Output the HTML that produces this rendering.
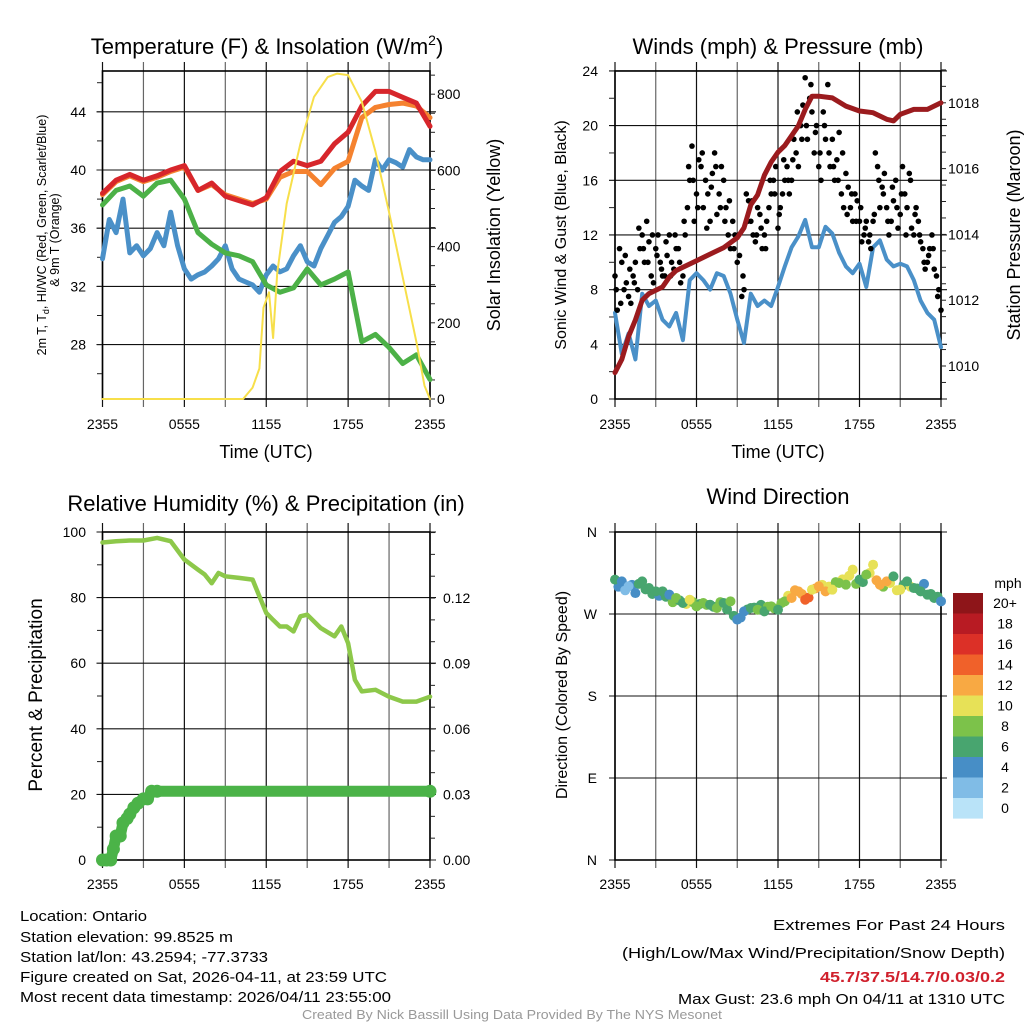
<!DOCTYPE html>
<html><head><meta charset="utf-8"><style>
html,body{margin:0;padding:0;background:#fff}
svg{display:block;font-family:"Liberation Sans",Arial,sans-serif}
</style></head><body>
<svg id="chart" width="1024" height="1024" viewBox="0 0 1024 1024" xmlns="http://www.w3.org/2000/svg">
<rect width="1024" height="1024" fill="#fff"/>
<text x="267" y="54" font-size="22" text-anchor="middle">Temperature (F) &amp; Insolation (W/m<tspan font-size="14" dy="-9">2</tspan><tspan dy="9">)</tspan></text>
<text x="778" y="54" font-size="22" text-anchor="middle">Winds (mph) &amp; Pressure (mb)</text>
<text x="266" y="511" font-size="22" text-anchor="middle">Relative Humidity (%) &amp; Precipitation (in)</text>
<text x="778" y="504" font-size="22" text-anchor="middle">Wind Direction</text>
<text x="266" y="458" font-size="18" text-anchor="middle">Time (UTC)</text>
<text x="778" y="458" font-size="18" text-anchor="middle">Time (UTC)</text>
<g font-size="12.5" text-anchor="middle">
<text transform="translate(46,235) rotate(-90)">2m T, T<tspan font-size="9" dy="3">d</tspan><tspan dy="-3">, HI/WC (Red, Green, Scarlet/Blue)</tspan></text>
<text transform="translate(59,240) rotate(-90)">&amp; 9m T (Orange)</text>
</g>
<text transform="translate(500,235) rotate(-90)" font-size="18" text-anchor="middle">Solar Insolation (Yellow)</text>
<text transform="translate(566,235) rotate(-90)" font-size="16" text-anchor="middle">Sonic Wind &amp; Gust (Blue, Black)</text>
<text transform="translate(1020,235) rotate(-90)" font-size="18" text-anchor="middle">Station Pressure (Maroon)</text>
<text transform="translate(42,695) rotate(-90)" font-size="19" text-anchor="middle">Percent &amp; Precipitation</text>
<text transform="translate(567,695) rotate(-90)" font-size="16" text-anchor="middle">Direction (Colored By Speed)</text>
<g font-size="15">
<text x="20" y="921" textLength="127" lengthAdjust="spacingAndGlyphs">Location: Ontario</text>
<text x="20" y="942" textLength="213" lengthAdjust="spacingAndGlyphs">Station elevation: 99.8525 m</text>
<text x="20" y="962" textLength="248" lengthAdjust="spacingAndGlyphs">Station lat/lon: 43.2594; -77.3733</text>
<text x="20" y="982" textLength="367" lengthAdjust="spacingAndGlyphs">Figure created on Sat, 2026-04-11, at 23:59 UTC</text>
<text x="20" y="1002" textLength="371" lengthAdjust="spacingAndGlyphs">Most recent data timestamp: 2026/04/11 23:55:00</text>
</g>
<g font-size="15">
<text x="773" y="930" textLength="232" lengthAdjust="spacingAndGlyphs">Extremes For Past 24 Hours</text>
<text x="622" y="958" textLength="383" lengthAdjust="spacingAndGlyphs">(High/Low/Max Wind/Precipitation/Snow Depth)</text>
<text x="820" y="982" textLength="185" lengthAdjust="spacingAndGlyphs" fill="#d0202c" font-weight="bold">45.7/37.5/14.7/0.03/0.2</text>
<text x="678" y="1004" textLength="327" lengthAdjust="spacingAndGlyphs">Max Gust: 23.6 mph On 04/11 at 1310 UTC</text>
</g>
<text x="302" y="1019" font-size="12.5" fill="#999" textLength="420" lengthAdjust="spacingAndGlyphs">Created By Nick Bassill Using Data Provided By The NYS Mesonet</text>
<g id="layer"></g>
</svg>
<script>
var hoursHourly=[0,1,2,3,4,5,6,7,8,9,10,11,12,13,14,15,16,17,18,19,20,21,22,23,24];
var hoursHalf=[0,0.5,1,1.5,2,2.5,3,3.5,4,4.5,5,5.5,6,6.5,7,7.5,8,8.5,9,9.5,10,10.5,11,11.5,12,12.5,13,13.5,14,14.5,15,15.5,16,16.5,17,17.5,18,18.5,19,19.5,20,20.5,21,21.5,22,22.5,23,23.5,24];
var temp2m=[38.4,39.3,39.7,39.3,39.6,40.0,40.3,38.6,39.1,38.2,37.9,37.6,38.1,39.9,40.6,40.3,40.6,41.8,42.6,44.4,45.4,45.4,45.0,44.6,43.0];
var temp9m=[38.3,39.2,39.6,39.2,39.5,39.9,40.2,38.6,39.0,38.3,38.0,37.7,38.0,39.5,39.9,39.9,39.0,40.1,40.6,43.6,44.3,44.5,44.6,44.4,43.6];
var dewpoint=[37.6,38.6,38.9,38.2,39.1,39.3,38.0,35.7,34.9,34.3,34.1,33.7,32.1,31.6,31.9,33.2,32.1,32.5,33.0,28.2,28.7,27.8,26.7,27.3,25.6];
var windChill=[33.9,36.6,35.7,38.0,34.3,34.8,34.1,34.6,35.7,34.8,37.1,34.8,33.2,32.5,32.8,33.0,33.4,33.9,34.8,33.2,32.5,32.3,32.1,31.6,32.8,33.4,33.0,33.2,34.1,34.8,33.7,33.4,34.6,35.5,36.4,36.8,37.5,39.3,38.9,38.6,40.7,40.0,40.7,40.5,40.2,41.4,40.9,40.7,40.7];
var solarHours=[0,10.3,11,11.5,11.8,12.2,12.5,12.8,13.5,14.5,15.5,16.5,17.2,18,19,20,21,22,23,23.6,24];
var solarValues=[0,0,30,80,240,280,160,330,513,670,793,845,854,850,780,650,490,320,150,35,0];
var sonicWind=[6.3,3.3,4.8,2.9,7.7,6.8,7.2,5.8,5.3,6.3,4.3,8.7,9.2,8.7,8.0,9.2,9.0,7.7,5.8,4.1,7.7,6.8,7.2,6.8,8.2,9.7,11.1,11.9,13.1,11.1,11.1,12.6,12.1,10.7,9.7,9.2,9.9,8.2,11.1,11.6,10.2,9.7,9.9,9.7,8.7,7.2,6.3,5.8,3.8];
var gustHoursA=[];for(var i=0;i<=72;i++)gustHoursA.push(i/3);
var gustA=[9,11,8,7.5,9,8,12,13,9,11,10,9,12,9.5,11,9,14,18.5,15,17,16,13,18,15,16,12,13,10,7.5,15,13,11.5,13.5,12,14,16,12.5,15,17,16,18,20,23.5,22,18,17,21,23,19,17.5,15,16.5,14,15,13,12,11.5,13,17,15.5,14,13,16,13.5,15,16.5,12,13,11,10,12,9,6.5];
var gustHoursB=[];for(var j=0;j<72;j++)gustHoursB.push(j/3+1/6);
var gustB=[6.5,10,8.5,7,10,11,10,11.5,8.5,12,9,10.5,10,11,8.5,12,16,13,17.5,14,15,16.5,13.5,17,14,11,12,10.5,8,14.5,12,14,11,13,15,17,14,16,15,19,17,21.5,19,21,20,16,19,17,16,19.5,14,15.5,13,14.5,11.5,13,11,18,14,16.5,12,14.5,12.5,17,14,12.5,14,11.5,9.5,11,9.5,8];
var gustHoursC=[];for(var k=0;k<72;k++)gustHoursC.push(k/3+0.09);
var gustC=[8,7,10.5,9.5,8.5,12.5,11,10,12,10.5,9.5,11.5,9,12,10,13,17,16,14,18,12.5,15.5,17,14,13,14.5,11,12,9,13,14.5,12,12.5,11,16,15,13.5,17.5,16,17.5,21,19,20,23,19.5,18,20,18,17,16,18,13.5,15,13,14,12.5,12,13.5,16,15,13,15.5,14,15,12,16,13.5,12,10,10.5,11,7.5];
var pressureHours=[0,0.5,1,1.5,2,2.5,3,3.5,4,4.5,5,6,7,8,9,9.5,10,10.5,11,11.5,12,12.5,13,13.5,14,14.5,15,16,17,18,19,20,20.5,21,22,23,24];
var pressure=[1009.8,1010.2,1010.9,1011.4,1012.0,1012.2,1012.3,1012.4,1012.7,1012.9,1013.0,1013.2,1013.4,1013.6,1013.9,1014.2,1014.9,1015.2,1015.8,1016.2,1016.5,1016.7,1017.0,1017.3,1017.8,1018.2,1018.2,1018.15,1017.9,1017.75,1017.7,1017.5,1017.45,1017.65,1017.8,1017.8,1018.0];
var rhHours=[0,1,2,3,4,5,6,7,7.5,8,8.5,9,10,11,11.5,12,12.5,13,13.5,14,14.5,15,16,17,17.5,18,18.5,19,20,21,22,23,24];
var rh=[96.8,97.2,97.4,97.4,98.2,97.2,91.6,88.5,87,84.4,87.5,86.5,86,85.5,80.4,75.3,73.2,71.2,71.2,69.7,74.3,74.8,70.7,68.2,71.2,66.1,54.9,51.4,51.9,49.8,48.3,48.3,49.8];
var precipHours=[0,0.3,0.6,0.8,1.0,1.3,1.5,1.8,2.0,2.3,2.6,3.0,3.3,3.6,4.0,24];
var precip=[0,0,0,0.005,0.011,0.011,0.017,0.019,0.021,0.024,0.026,0.028,0.028,0.0315,0.0315,0.0315];
var windDir=[307.7,305.8,300.4,293,305.8,298.5,294.9,294.9,291.2,287.6,282.1,285.7,278.4,282.1,280.2,276.6,282.1,283.9,263.8,272.9,276.6,274.7,272.9,278.4,274.7,283.9,287.6,294.9,285.7,296.7,300.4,294.9,296.7,304,302.2,318.7,307.7,313.2,324.1,302.2,305.8,311.3,296.7,305.8,298.5,294.9,291.2,287.6,283.9];
var windDirSpeed=[6,4,3,4,7,6,6,6,4,8,6,10,9,9,7,8,7,9,4,4,6,8,6,9,7,9,12,12,14,10,12,12,11,9,8,10,7,8,10,12,12,6,10,6,7,6,6,6,5];
var dirHoursB=[];for(var q=0;q<48;q++)dirHoursB.push(q/2+0.25);
var windDirB=[300,296,302,303,297,292,290,289,283,285,281,283,281,280,278,283,275,268,266,275,277,280,278,276,282,290,296,292,288,298,302,300,305,308,312,303,305,315,307,300,304,296,302,300,298,303,292,289];
var windDirSpeedB=[4,2,4,7,6,6,4,6,9,7,10,8,7,9,7,9,6,6,4,6,6,7,8,9,8,10,12,13,14,12,10,10,8,10,10,8,7,10,12,8,10,10,6,10,6,4,6,6];
var speedLabels=['20+','18','16','14','12','10','8','6','4','2','0'];
var speedColors=['#b9e3f8','#80bce6','#478ec6','#48a56f','#7cc24a','#e7e157','#f8a943','#f0612a','#dc3027','#b81b23','#8e1519'];
var tempTicks=[28,32,36,40,44];
var solarTicks=[0,200,400,600,800];
var windTicks=[0,4,8,12,16,20,24];
var pressureTicks=[1010,1012,1014,1016,1018];
var rhTicks=[0,20,40,60,80,100];
var precipTicks=['0.00','0.03','0.06','0.09','0.12'];
var dirTicks=['N','E','S','W','N'];
var timeLabels=['2355','0555','1155','1755','2355'];

var NS='http://www.w3.org/2000/svg';
var layer=document.getElementById('layer');
function mk(tag,attrs,parent){var e=document.createElementNS(NS,tag);for(var k in attrs)e.setAttribute(k,attrs[k]);(parent||layer).appendChild(e);return e;}
function xL(h){return 102.5+h*327.5/24;}
function xR(h){return 615+h*326/24;}
function yTemp(t){return 170-(t-40)*14.55;}
function ySolar(w){return 399-w*0.381;}
function yWind(m){return 399-m*13.67;}
function yPres(p){return 366-(p-1010)*32.9;}
function yRH(r){return 860-r*3.28;}
function yPrecip(p){return 860-p*2183;}
function yDir(d){return 860-d*328/360;}

function frame(name,x0,x1,y0,y1,hy){
  var g=mk('g',{});
  
  
  for(var k=0;k<=8;k++){var x=x0+(x1-x0)*k/8;
    mk('line',{x1:x,x2:x,y1:y0-9,y2:y1+8,stroke:(k%2?'#666':'#111'),'stroke-width':1.2},g);}
  hy.forEach(function(y){mk('line',{x1:x0-6,x2:x1+6,y1:y,y2:y,stroke:'#111','stroke-width':1.1},g);});
  mk('rect',{x:x0,y:y0,width:x1-x0,height:y1-y0,fill:'none',stroke:'#000','stroke-width':1.6},g);
  return g;
}
function txt(s,x,y,anchor,size,parent,name){var t=mk('text',{x:x,y:y,'text-anchor':anchor,'font-size':size||14},parent);t.textContent=s;
  
  return t;}
function minor(x,ys,len,g){ys.forEach(function(y){mk('line',{x1:x,x2:x+len,y1:y,y2:y,stroke:'#222','stroke-width':1},g);});}
function pathFrom(xs,ys,fx,fy){var d='';for(var i=0;i<xs.length;i++){d+=(i?'L':'M')+fx(xs[i]).toFixed(1)+','+fy(ys[i]).toFixed(1);}return d;}
function line(name,xs,ys,fx,fy,color,w){var p=mk('path',{d:pathFrom(xs,ys,fx,fy),fill:'none',stroke:color,'stroke-width':w,'stroke-linejoin':'round','stroke-linecap':'round'});
  
  return p;}

var g1=frame('temperature-plot',102.5,430,71,399,tempTicks.map(yTemp));
var m1=[];for(var t=26;t<=46;t+=2)m1.push(yTemp(t));minor(97,m1,5,g1);
var m1r=[];for(var s=0;s<=850;s+=50)m1r.push(ySolar(s));minor(430,m1r,5,g1);
tempTicks.forEach(function(v){txt(String(v),86,yTemp(v)+5,'end',14,g1,'temp-tick-label');});
solarTicks.forEach(function(v){txt(String(v),437,ySolar(v)+5,'start',14,g1,'solar-tick-label');});
timeLabels.forEach(function(s,i){txt(s,xL(i*6),429,'middle',14,g1,'time-tick-label');});
line('wind-chill-line',hoursHalf,windChill,xL,yTemp,'#4a90c8',5);
line('dewpoint-line',hoursHourly,dewpoint,xL,yTemp,'#4cb147',5);
line('temp-9m-line',hoursHourly,temp9m,xL,yTemp,'#f5822f',5);
line('temp-2m-line',hoursHourly,temp2m,xL,yTemp,'#d7262b',5);
line('solar-line',solarHours,solarValues,xL,ySolar,'#f7df4a',2);

var g2=frame('winds-plot',615,941,71,399,windTicks.map(yWind));
var m2=[];for(var w=2;w<=22;w+=4)m2.push(yWind(w));minor(609,m2,6,g2);
var m2r=[];for(var p=1009.5;p<=1019;p+=0.5)m2r.push(yPres(p));minor(941,m2r,5,g2);
windTicks.forEach(function(v){txt(String(v),598,yWind(v)+5,'end',14,g2,'wind-tick-label');});
pressureTicks.forEach(function(v){txt(String(v),948,yPres(v)+5,'start',14,g2,'pressure-tick-label');});
timeLabels.forEach(function(s,i){txt(s,xR(i*6),429,'middle',14,g2,'time-tick-label');});
line('sonic-wind-line',hoursHalf,sonicWind,xR,yWind,'#4a90c8',4);
var gg=mk('g',{});


gustA.forEach(function(v,i){mk('circle',{cx:xR(gustHoursA[i]),cy:yWind(v),r:2.8,fill:'#000'},gg);});
gustB.forEach(function(v,i){mk('circle',{cx:xR(gustHoursB[i]),cy:yWind(v),r:2.8,fill:'#000'},gg);});
gustC.forEach(function(v,i){mk('circle',{cx:xR(gustHoursC[i]),cy:yWind(v),r:2.8,fill:'#000'},gg);});
line('pressure-line',pressureHours,pressure,xR,yPres,'#9b1b1e',5);

var g3=frame('humidity-plot',102.5,430,532,860,rhTicks.map(yRH));
var m3=[];for(var r=10;r<=90;r+=20)m3.push(yRH(r));minor(97,m3,5,g3);
var m3r=[];for(var qq=0;qq<=0.15;qq+=0.01)m3r.push(yPrecip(qq));minor(430,m3r,5,g3);
rhTicks.forEach(function(v){txt(String(v),86,yRH(v)+5,'end',14,g3,'rh-tick-label');});
precipTicks.forEach(function(s){txt(s,443,yPrecip(parseFloat(s))+5,'start',14,g3,'precip-tick-label');});
timeLabels.forEach(function(s,i){txt(s,xL(i*6),889,'middle',14,g3,'time-tick-label');});
line('humidity-line',rhHours,rh,xL,yRH,'#8dc84a',4.5);
line('precip-line',precipHours,precip,xL,yPrecip,'#4bb348',11);
var pg=mk('g',{});


precip.forEach(function(v,i){mk('circle',{cx:xL(precipHours[i]),cy:yPrecip(v),r:6.5,fill:'#4bb348'},pg);});

var g4=frame('wind-direction-plot',615,941,532,860,[0,90,180,270,360].map(yDir));
dirTicks.forEach(function(s,i){txt(s,597,yDir(i*90)+5,'end',14,g4,'direction-tick-label');});
timeLabels.forEach(function(s,i){txt(s,xR(i*6),889,'middle',14,g4,'time-tick-label');});
var dg=mk('g',{});


function bin(sp){return Math.min(10,Math.floor(sp/2));}
windDirB.forEach(function(d,i){mk('circle',{cx:xR(dirHoursB[i]),cy:yDir(d),r:5,fill:speedColors[bin(windDirSpeedB[i])]},dg);});
windDir.forEach(function(d,i){mk('circle',{cx:xR(hoursHalf[i]),cy:yDir(d),r:5,fill:speedColors[bin(windDirSpeed[i])]},dg);});
var cb=mk('g',{});


speedLabels.forEach(function(s,i){var y=593+i*20.5;
  mk('rect',{x:953,y:y,width:30,height:20.6,fill:speedColors[10-i]},cb);
  txt(s,1005,y+15,'middle',14,cb,'colorbar-label');});
txt('mph',1008,588,'middle',14,cb,'colorbar-unit');
</script>
</body></html>
